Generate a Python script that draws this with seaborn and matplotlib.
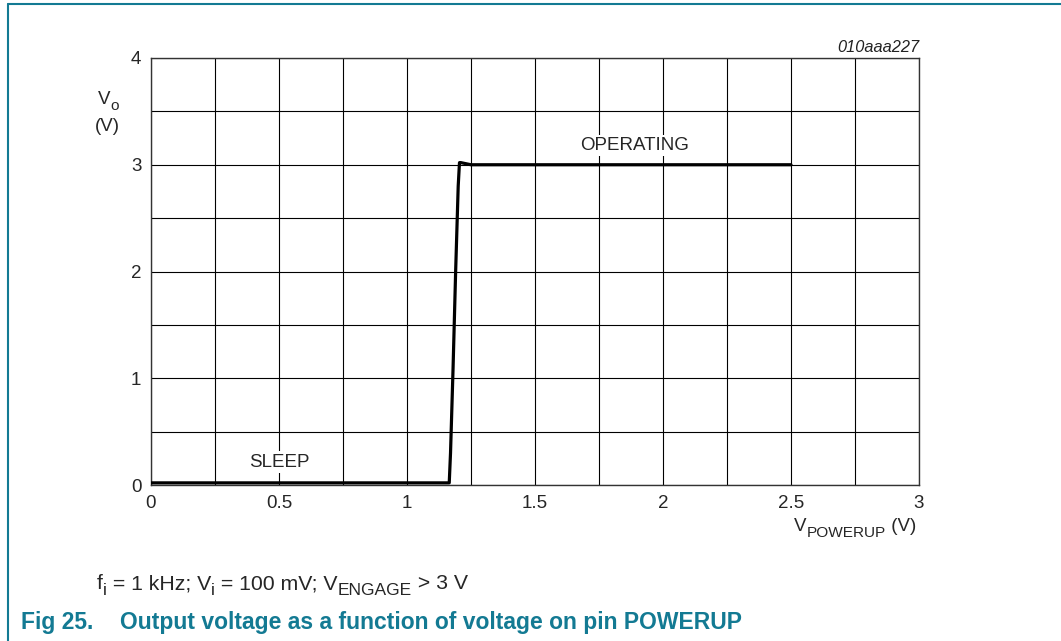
import numpy as np
import pandas as pd
import matplotlib
matplotlib.use("Agg")
import matplotlib.pyplot as plt
import seaborn as sns
from matplotlib.lines import Line2D

# curve
v_powerup = [0.0, 0.5, 1.0, 1.165, 1.17, 1.18, 1.19, 1.20, 1.205, 1.21, 1.25, 1.5, 2.0, 2.5]
v_out = [0.02, 0.02, 0.02, 0.02, 0.3, 1.1, 2.0, 2.8, 3.02, 3.02, 3.0, 3.0, 3.0, 3.0]

x_ticks = [0, 0.5, 1, 1.5, 2, 2.5, 3]
x_tick_labels = ["0", "0.5", "1", "1.5", "2", "2.5", "3"]
y_ticks = [0, 1, 2, 3, 4]
y_tick_labels = ["0", "1", "2", "3", "4"]

df = pd.DataFrame({"V_POWERUP": v_powerup, "Vo": v_out})

sns.set_style("white")
plt.rcParams["font.family"] = ["Liberation Sans", "DejaVu Sans"]

teal = "#137a93"
fs = 13.5
W, H = 1061, 641

fig = plt.figure(figsize=(10.61, 6.41), dpi=100)
ax = fig.add_axes([151 / W, 1 - 485 / H, 768 / W, 427 / H])

sns.lineplot(data=df, x="V_POWERUP", y="Vo", sort=False, color="black",
             linewidth=2.3, ax=ax, zorder=3)

ax.set_xlim(0, 3)
ax.set_ylim(0, 4)
ax.set_xticks(x_ticks, labels=x_tick_labels)
ax.set_xticks(np.arange(0, 3.01, 0.25), minor=True)
ax.set_yticks(y_ticks, labels=y_tick_labels)
ax.set_yticks(np.arange(0, 4.01, 0.5), minor=True)
ax.grid(True, which="both", color="black", linewidth=0.8)
ax.tick_params(which="both", length=0, labelsize=fs, pad=7)
ax.set_xlabel("")
ax.set_ylabel("")
for s in ax.spines.values():
    s.set_color("#333333")
    s.set_linewidth(1.0)

ax.text(0.5, 0.215, "SLEEP", ha="center", va="center", fontsize=fs,
        bbox=dict(facecolor="white", edgecolor="none", pad=1.5), zorder=4)
ax.text(1.887, 3.18, "OPERATING", ha="center", va="center", fontsize=fs,
        bbox=dict(facecolor="white", edgecolor="none", pad=1.5), zorder=4)

renderer = fig.canvas.get_renderer()


def rich_text(x_px, y_px, parts, size, align="left"):
    """draw text with subscripts, parts = [(string, is_sub)], baseline at y_px"""
    sub_size = size * 0.82
    shift = size * 0.30 * 100 / 72
    texts = []
    for s, sub in parts:
        t = fig.text(0, 0, s, fontsize=sub_size if sub else size,
                     va="baseline", ha="left", transform=None)
        texts.append((t, sub))
    widths = [t.get_window_extent(renderer).width for t, _ in texts]
    total = sum(widths)
    x = x_px if align == "left" else x_px - total / 2
    for (t, sub), w in zip(texts, widths):
        y = H - y_px - (shift if sub else 0)
        t.set_position((x, y))
        x += w


fig.text(919 / W, 1 - 48 / H, "010aaa227", ha="right", va="center",
         fontsize=11.8, style="italic", color="#222222")
rich_text(108, 104, [("V", False), ("o", True)], fs, align="center")
rich_text(107, 131, [("(V)", False)], fs, align="center")
rich_text(855, 531, [("V", False), ("POWERUP", True), (" (V)", False)], fs,
          align="center")
rich_text(97, 589, [("f", False), ("i", True), (" = 1 kHz; V", False),
                    ("i", True), (" = 100 mV; V", False), ("ENGAGE", True),
                    (" > 3 V", False)], 15.3)

fig.text(21 / W, 1 - 623 / H, "Fig 25.", ha="left", va="center",
         fontsize=16.5, fontweight="bold", color=teal)
fig.text(120 / W, 1 - 623 / H,
         "Output voltage as a function of voltage on pin POWERUP",
         ha="left", va="center", fontsize=16.5, fontweight="bold", color=teal)

# frame of the figure box
fig.add_artist(Line2D([8 / W, 1.0], [1 - 4 / H, 1 - 4 / H], color=teal,
                      linewidth=1.5, transform=fig.transFigure))
fig.add_artist(Line2D([8 / W, 8 / W], [1 - 4 / H, 0.0], color=teal,
                      linewidth=1.5, transform=fig.transFigure))

fig.savefig("out.png", dpi=100)
